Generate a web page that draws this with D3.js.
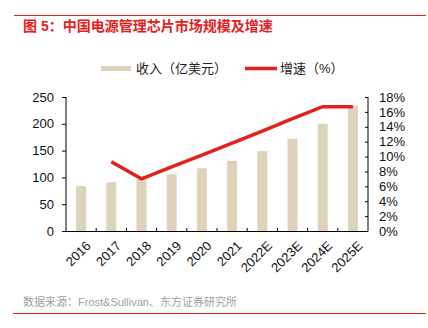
<!DOCTYPE html>
<html><head><meta charset="utf-8">
<script src="https://cdn.jsdelivr.net/npm/d3@7"></script>
<style>
body{margin:0;background:#fff;}
text{font-family:"Liberation Sans","Noto Sans CJK SC",sans-serif;}
</style></head>
<body><svg id="c" width="428" height="328"></svg>
<script>
const categories = ["2016","2017","2018","2019","2020","2021","2022E","2023E","2024E","2025E"];
const revenue = [84, 91, 97, 106, 117, 131, 149, 172, 200, 234];
const growth = [null, 9.3, 7.0, 8.6, 10.2, 11.8, 13.4, 15.1, 16.7, 16.7];
const leftTicks = [0, 50, 100, 150, 200, 250];
const rightTicks = [0, 2, 4, 6, 8, 10, 12, 14, 16, 18];
const title = "图 5：中国电源管理芯片市场规模及增速";
const legendBar = "收入（亿美元）";
const legendLine = "增速（%）";
const source = "数据来源：Frost&Sullivan、东方证券研究所";

const svg = d3.select("#c");
const red = "#e3201b", barC = "#ddd3bb";
const cjk = '"Liberation Sans","Noto Sans CJK SC",sans-serif';

svg.append("line").attr("x1",14).attr("x2",426).attr("y1",15.5).attr("y2",15.5).attr("stroke",red).attr("stroke-width",1);
svg.append("line").attr("x1",13).attr("x2",426).attr("y1",313.5).attr("y2",313.5).attr("stroke",red).attr("stroke-width",1);
svg.append("text").attr("x",23).attr("y",31).attr("fill",red).attr("font-size",14).attr("font-weight","bold").style("font-family",cjk).text(title);
svg.append("text").attr("x",23).attr("y",306).attr("fill","#a0a0a0").attr("font-size",11).style("font-family",cjk).text(source);

// legend
svg.append("rect").attr("x",101).attr("y",66).attr("width",30).attr("height",5).attr("fill",barC);
svg.append("text").attr("x",136).attr("y",73).attr("font-size",13).attr("fill","#222").style("font-family",cjk).text(legendBar);
svg.append("line").attr("x1",245).attr("x2",277).attr("y1",68.5).attr("y2",68.5).attr("stroke",red).attr("stroke-width",3.5);
svg.append("text").attr("x",280).attr("y",73).attr("font-size",13).attr("fill","#222").style("font-family",cjk).text(legendLine);

const L = 66, R = 368, T = 97, B = 231;
const x = d3.scaleBand().domain(categories).range([L, R]).paddingInner(0).paddingOuter(0);
const yL = d3.scaleLinear().domain([0,250]).range([B, T]);
const yR = d3.scaleLinear().domain([0,18]).range([B, T]);
const bw = 10;

svg.append("g").selectAll("rect").data(categories).join("rect")
  .attr("x", (d)=>x(d)+x.bandwidth()/2-bw/2)
  .attr("y", (d,i)=>yL(revenue[i]))
  .attr("width", bw)
  .attr("height", (d,i)=>B-yL(revenue[i]))
  .attr("fill", barC);

const line = d3.line().defined(d=>d.v!=null).x(d=>x(d.c)+x.bandwidth()/2).y(d=>yR(d.v));
svg.append("path").datum(categories.map((c,i)=>({c, v: growth[i]})))
  .attr("d", line).attr("fill","none").attr("stroke",red).attr("stroke-width",3.5);

// left axis
const gl = svg.append("g").attr("transform",`translate(${L},0)`)
  .call(d3.axisLeft(yL).tickValues(leftTicks).tickSize(4).tickPadding(8));
// right axis
const gr = svg.append("g").attr("transform",`translate(${R},0)`)
  .call(d3.axisRight(yR).tickValues(rightTicks).tickFormat(d=>d+"%").tickSize(-3).tickPadding(11));
// bottom axis
const gb = svg.append("g").attr("transform",`translate(0,${B})`);
gb.append("line").attr("x1",L).attr("x2",R).attr("y1",0.5).attr("y2",0.5).attr("stroke","#000");
gb.selectAll("line.tk").data(d3.range(1,categories.length)).join("line").attr("class","tk")
  .attr("x1",i=>x(categories[i])).attr("x2",i=>x(categories[i])).attr("y1",0).attr("y2",-3).attr("stroke","#000");
gb.selectAll("text").data(categories).join("text")
  .attr("transform", d=>`translate(${x(d)+x.bandwidth()/2+4},${9}) rotate(-45)`)
  .attr("text-anchor","end").attr("dy","0.71em").attr("font-size",13).attr("fill","#111").text(d=>d);

[gl,gr].forEach(g=>{
  g.select(".domain").attr("stroke","#000");
  g.selectAll(".tick line").attr("stroke","#000");
  g.selectAll(".tick text").attr("font-size",13).attr("fill","#111").style("font-family",cjk);
});
gl.select(".domain").attr("d",`M0,${T}V${B+0.5}`);
gr.select(".domain").attr("d",`M0,${T}V${B+0.5}`);
</script></body></html>
